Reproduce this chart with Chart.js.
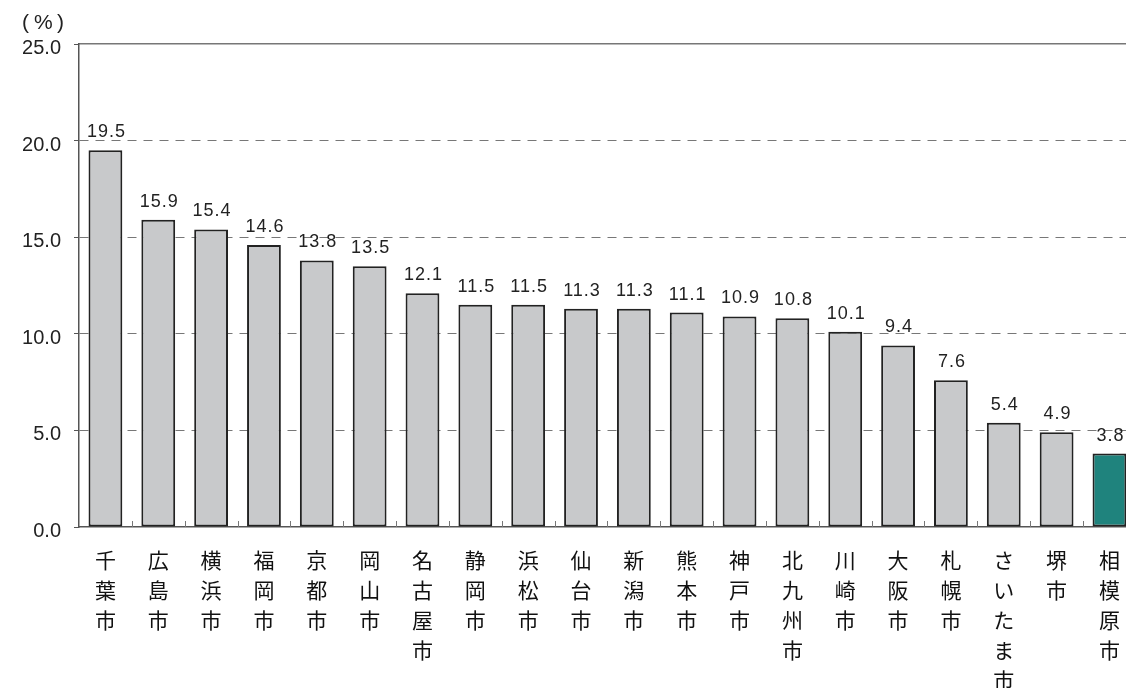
<!doctype html>
<html lang="ja">
<head>
    <meta charset="utf-8">
    <title>政令指定都市 比較</title>
    <style>
        * {
            margin: 0;
            padding: 0;
        }

        body {
            width: 1126px;
            height: 688px;
            overflow: hidden;
            background: #fff;
        }

        canvas {
            display: block;
        }
    </style>
</head>
<body>
<canvas id="myChart" width="1138" height="688"></canvas>
<script src="https://cdn.jsdelivr.net/npm/chart.js"></script>
<script>
    // data
    const cities = ['千葉市', '広島市', '横浜市', '福岡市', '京都市', '岡山市', '名古屋市', '静岡市', '浜松市', '仙台市',
        '新潟市', '熊本市', '神戸市', '北九州市', '川崎市', '大阪市', '札幌市', 'さいたま市', '堺市', '相模原市'];
    const rates = [19.5, 15.9, 15.4, 14.6, 13.8, 13.5, 12.1, 11.5, 11.5, 11.3,
        11.3, 11.1, 10.9, 10.8, 10.1, 9.4, 7.6, 5.4, 4.9, 3.8];
    const highlight = '相模原市';
    const yTicks = [0, 5, 10, 15, 20, 25];

    const CJK = '"Noto Sans CJK JP", sans-serif';
    const NUM = '"Liberation Sans", Arial, sans-serif';

    // vertical text: one char per line
    const labels = cities.map(c => c.split(''));

    // value labels above bars + small inner ticks + unit
    const extras = {
        id: 'extras',
        afterDatasetsDraw(chart) {
            const {ctx, chartArea: {bottom}, scales: {x}} = chart;
            const meta = chart.getDatasetMeta(0);
            ctx.save();
            ctx.fillStyle = '#222';
            ctx.font = '18px ' + NUM;
            ctx.letterSpacing = '1px';
            ctx.textAlign = 'center';
            ctx.textBaseline = 'alphabetic';
            meta.data.forEach((bar, i) => {
                ctx.fillText(rates[i].toFixed(1), bar.x + 1, bar.y - 13);
            });
            ctx.letterSpacing = '0px';

            // short ticks between categories, pointing up
            ctx.strokeStyle = '#777';
            ctx.lineWidth = 1;
            for (let i = 1; i < cities.length; i++) {
                const px = (x.getPixelForValue(i - 1) + x.getPixelForValue(i)) / 2;
                ctx.beginPath();
                ctx.moveTo(Math.round(px) + 0.5, bottom);
                ctx.lineTo(Math.round(px) + 0.5, bottom - 6);
                ctx.stroke();
            }

            // unit (%)
            ctx.font = '21px ' + NUM;
            ctx.textAlign = 'left';
            ctx.textBaseline = 'middle';
            ctx.fillText('(', 22, 23);
            ctx.fillText('%', 34, 23);
            ctx.fillText(')', 57, 23);
            ctx.restore();
        }
    };

    const config = {
        type: 'bar',
        data: {
            labels: labels,
            datasets: [{
                data: rates,
                backgroundColor: cities.map(c => c === highlight ? '#1f837d' : '#c8c9cb'),
                borderColor: '#222',
                borderWidth: 2,
                borderSkipped: false,
                barPercentage: 0.64,
                categoryPercentage: 1.0
            }]
        },
        options: {
            responsive: false,
            maintainAspectRatio: false,
            animation: false,
            devicePixelRatio: 1,
            layout: {
                padding: {top: 44, left: 0, right: 0, bottom: 0}
            },
            plugins: {
                legend: {display: false},
                tooltip: {enabled: false}
            },
            scales: {
                x: {
                    offset: true,
                    grid: {
                        display: false,
                        drawTicks: false
                    },
                    border: {
                        display: true,
                        color: '#555',
                        width: 1.5
                    },
                    ticks: {
                        color: '#111',
                        font: {family: CJK, size: 21, lineHeight: 1.43},
                        padding: 18,
                        maxRotation: 0,
                        autoSkip: false
                    },
                    afterFit(scale) {
                        scale.height = 161;
                    }
                },
                xTop: {
                    position: 'top',
                    type: 'category',
                    labels: labels,
                    grid: {display: false, drawTicks: false},
                    ticks: {display: false},
                    border: {display: true, color: '#777', width: 1.5},
                    afterFit(scale) {
                        scale.height = 0;
                    }
                },
                y: {
                    min: 0,
                    max: 25,
                    afterBuildTicks(scale) {
                        scale.ticks = yTicks.map(v => ({value: v}));
                    },
                    grid: {
                        color: ctx => (ctx.tick && (ctx.tick.value === 0 || ctx.tick.value === 25)) ? 'rgba(0,0,0,0)' : '#777',
                        tickColor: '#555',
                        tickLength: 5,
                        lineWidth: 1
                    },
                    border: {
                        display: true,
                        color: '#555',
                        width: 1.5,
                        dash: [9, 7]
                    },
                    ticks: {
                        color: '#222',
                        font: {family: NUM, size: 20, lineHeight: 0.45},
                        padding: 13,
                        // empty first line nudges the value a few px below its tick
                        callback: v => ['', Number(v).toFixed(1)]
                    },
                    afterFit(scale) {
                        scale.width = 79;
                    }
                }
            }
        },
        plugins: [extras]
    };

    const myChart = new Chart(
        document.getElementById('myChart'),
        config
    );
</script>
</body>
</html>
